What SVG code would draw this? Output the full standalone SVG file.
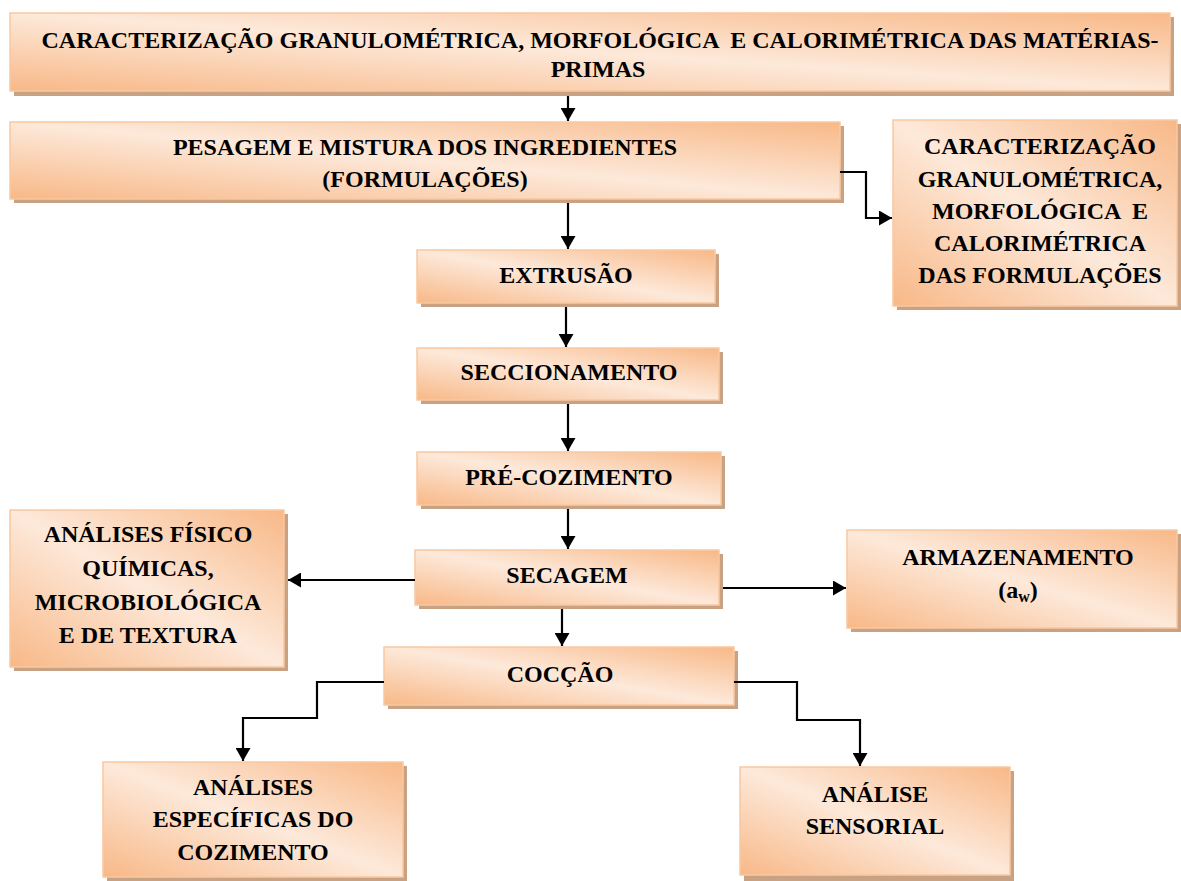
<svg xmlns="http://www.w3.org/2000/svg" width="1181" height="881" viewBox="0 0 1181 881">
<defs>
<linearGradient id="g" x1="1" y1="0" x2="0" y2="1">
<stop offset="0" stop-color="#F8B887"/>
<stop offset="0.5" stop-color="#FDE9DA"/>
<stop offset="1" stop-color="#F8B887"/>
</linearGradient>
<marker id="ah" markerWidth="13" markerHeight="15" refX="13" refY="7.5" orient="auto" markerUnits="userSpaceOnUse">
<path d="M0,0 L13,7.5 L0,15 Z" fill="#000"/>
</marker>
</defs>
<style>
.sh{fill:#C9A283}
.bx{fill:url(#g);stroke:#F9C8A0;stroke-width:1.5}
text{font-family:"Liberation Serif","Times New Roman",serif;font-weight:bold;font-size:24px;fill:#000;text-anchor:middle;white-space:pre}
.c{fill:none;stroke:#000;stroke-width:2.2;marker-end:url(#ah)}
</style>
<rect width="1181" height="881" fill="#fff"/>

<g id="n1">
<rect class="sh" x="14" y="17" width="1160" height="79"/>
<rect class="bx" x="10" y="13" width="1160" height="78"/>
<text x="600" y="48" xml:space="preserve">CARACTERIZAÇÃO GRANULOMÉTRICA, MORFOLÓGICA  E CALORIMÉTRICA DAS MATÉRIAS-</text>
<text x="598" y="77">PRIMAS</text>
</g>

<g id="n2">
<rect class="sh" x="14" y="126" width="830" height="77"/>
<rect class="bx" x="10" y="122" width="830" height="77"/>
<text x="425" y="155">PESAGEM E MISTURA DOS INGREDIENTES</text>
<text x="425" y="187">(FORMULAÇÕES)</text>
</g>

<g id="n3">
<rect class="sh" x="897" y="124" width="284" height="186"/>
<rect class="bx" x="893" y="120" width="284" height="186"/>
<text x="1040" y="154">CARACTERIZAÇÃO</text>
<text x="1040" y="187">GRANULOMÉTRICA,</text>
<text x="1040" y="219" xml:space="preserve">MORFOLÓGICA  E</text>
<text x="1040" y="251">CALORIMÉTRICA</text>
<text x="1040" y="283">DAS FORMULAÇÕES</text>
</g>

<g id="n4">
<rect class="sh" x="421" y="254" width="298" height="53"/>
<rect class="bx" x="417" y="250" width="298" height="53"/>
<text x="566" y="283">EXTRUSÃO</text>
</g>

<g id="n5">
<rect class="sh" x="421" y="352" width="302" height="52"/>
<rect class="bx" x="417" y="348" width="302" height="52"/>
<text x="569" y="380">SECCIONAMENTO</text>
</g>

<g id="n6">
<rect class="sh" x="421" y="456" width="304" height="53"/>
<rect class="bx" x="417" y="452" width="304" height="53"/>
<text x="569" y="485">PRÉ-COZIMENTO</text>
</g>

<g id="n7">
<rect class="sh" x="419" y="554" width="304" height="55"/>
<rect class="bx" x="415" y="550" width="304" height="55"/>
<text x="567" y="583">SECAGEM</text>
</g>

<g id="n8">
<rect class="sh" x="14" y="514" width="274" height="157"/>
<rect class="bx" x="10" y="510" width="274" height="157"/>
<text x="148" y="542">ANÁLISES FÍSICO</text>
<text x="148" y="576">QUÍMICAS,</text>
<text x="148" y="610">MICROBIOLÓGICA</text>
<text x="148" y="643">E DE TEXTURA</text>
</g>

<g id="n9">
<rect class="sh" x="851" y="534" width="330" height="98"/>
<rect class="bx" x="847" y="530" width="330" height="98"/>
<text x="1018" y="565">ARMAZENAMENTO</text>
<text x="1018" y="598">(a<tspan font-size="16" dy="4">w</tspan><tspan dy="-4">)</tspan></text>
</g>

<g id="n10">
<rect class="sh" x="388" y="651" width="350" height="58"/>
<rect class="bx" x="384" y="647" width="350" height="58"/>
<text x="560" y="682">COCÇÃO</text>
</g>

<g id="n11">
<rect class="sh" x="107" y="766" width="300" height="115"/>
<rect class="bx" x="103" y="762" width="300" height="115"/>
<text x="253" y="795">ANÁLISES</text>
<text x="253" y="827">ESPECÍFICAS DO</text>
<text x="253" y="860">COZIMENTO</text>
</g>

<g id="n12">
<rect class="sh" x="744" y="771" width="270" height="110"/>
<rect class="bx" x="740" y="767" width="270" height="108"/>
<text x="875" y="802">ANÁLISE</text>
<text x="875" y="834">SENSORIAL</text>
</g>

<g id="connectors">
<path class="c" d="M568,96 V121"/>
<path class="c" d="M568,203 V249"/>
<path class="c" d="M566,307 V347"/>
<path class="c" d="M568,404 V451"/>
<path class="c" d="M568,509 V549"/>
<path class="c" d="M840,172 H866 V218 H892"/>
<path class="c" d="M415,580 H288"/>
<path class="c" d="M723,588 H846"/>
<path class="c" d="M562,609 V646"/>
<path class="c" d="M384,682 H317 V718 H243 V761"/>
<path class="c" d="M734,682 H797 V720 H860 V766"/>
</g>
</svg>
